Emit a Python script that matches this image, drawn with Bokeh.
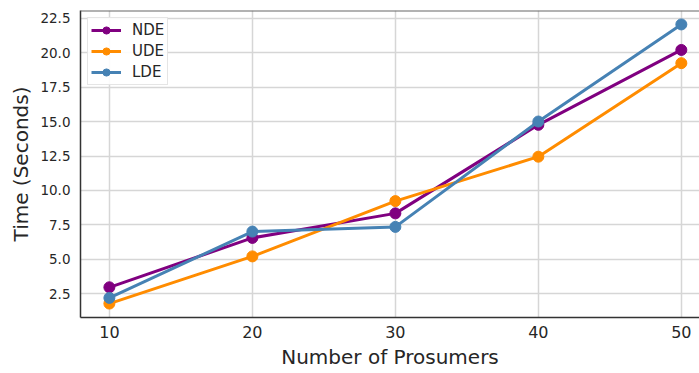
from bokeh.plotting import figure
from bokeh.models import FixedTicker, NumeralTickFormatter, Legend, LegendItem, Span, Range1d
from bokeh.embed import file_html
from bokeh.resources import INLINE

prosumers = [10, 20, 30, 40, 50]
nde = [2.98, 6.56, 8.34, 14.76, 20.19]
ude = [1.80, 5.22, 9.23, 12.45, 19.23]
lde = [2.21, 7.02, 7.36, 15.00, 22.04]
series_names = ["NDE", "UDE", "LDE"]
series_colors = ["#800080", "#FF8C00", "#4682B4"]
y_ticks = [2.5, 5.0, 7.5, 10.0, 12.5, 15.0, 17.5, 20.0, 22.5]
x_ticks = [10, 20, 30, 40, 50]

FONT = "DejaVu Sans"
TXT = "#262626"

p = figure(width=699, height=373, output_backend="svg", toolbar_location=None,
           x_range=Range1d(7.98, 51.27), y_range=Range1d(0.79, 23.05),
           min_border_left=80, min_border_right=0, min_border_top=10, min_border_bottom=56)
p.outline_line_color = None
p.background_fill_color = "white"

for ax in (p.xaxis[0], p.yaxis[0]):
    ax.axis_line_color = "#333333"
    ax.axis_line_width = 1.5
    ax.major_tick_line_color = None
    ax.minor_tick_line_color = None
    ax.major_tick_out = 0
    ax.major_tick_in = 0
    ax.minor_tick_out = 0
    ax.minor_tick_in = 0
    ax.major_label_text_color = TXT
    ax.major_label_text_font = FONT
    ax.axis_label_text_color = TXT
    ax.axis_label_text_font = FONT
    ax.axis_label_text_font_style = "normal"
    ax.axis_label_text_font_size = "20px"

p.xaxis.ticker = FixedTicker(ticks=x_ticks)
p.yaxis.ticker = FixedTicker(ticks=y_ticks)
p.yaxis.formatter = NumeralTickFormatter(format="0.0")
p.xaxis.major_label_text_font_size = "16px"
p.yaxis.major_label_text_font_size = "13.5px"
p.xaxis.major_label_standoff = 8
p.yaxis.major_label_standoff = 10
p.xaxis.axis_label = "Number of Prosumers"
p.yaxis.axis_label = "Time (Seconds)"
p.xaxis.axis_label_standoff = 4
p.yaxis.axis_label_standoff = 4

p.xgrid.grid_line_color = "#d6d6d6"
p.ygrid.grid_line_color = "#d6d6d6"
p.xgrid.grid_line_width = 1.5
p.ygrid.grid_line_width = 1.5

p.add_layout(Span(location=23.05, dimension="width", line_color="#666666", line_width=2))

items = []
for name, ys, col in zip(series_names, [nde, ude, lde], series_colors):
    r1 = p.line(prosumers, ys, line_color=col, line_width=3)
    r2 = p.scatter(prosumers, ys, size=11, fill_color=col, line_color=col)
    items.append(LegendItem(label=name, renderers=[r1, r2]))

legend = Legend(items=items, location="top_left", margin=7, padding=3, spacing=3,
                glyph_width=30, glyph_height=18, label_standoff=11,
                label_text_font=FONT, label_text_font_size="15px", label_text_color=TXT,
                border_line_color="#cccccc", border_line_width=1, background_fill_alpha=0.9)
p.add_layout(legend)

open("out.html", "w").write(file_html(p, INLINE))
